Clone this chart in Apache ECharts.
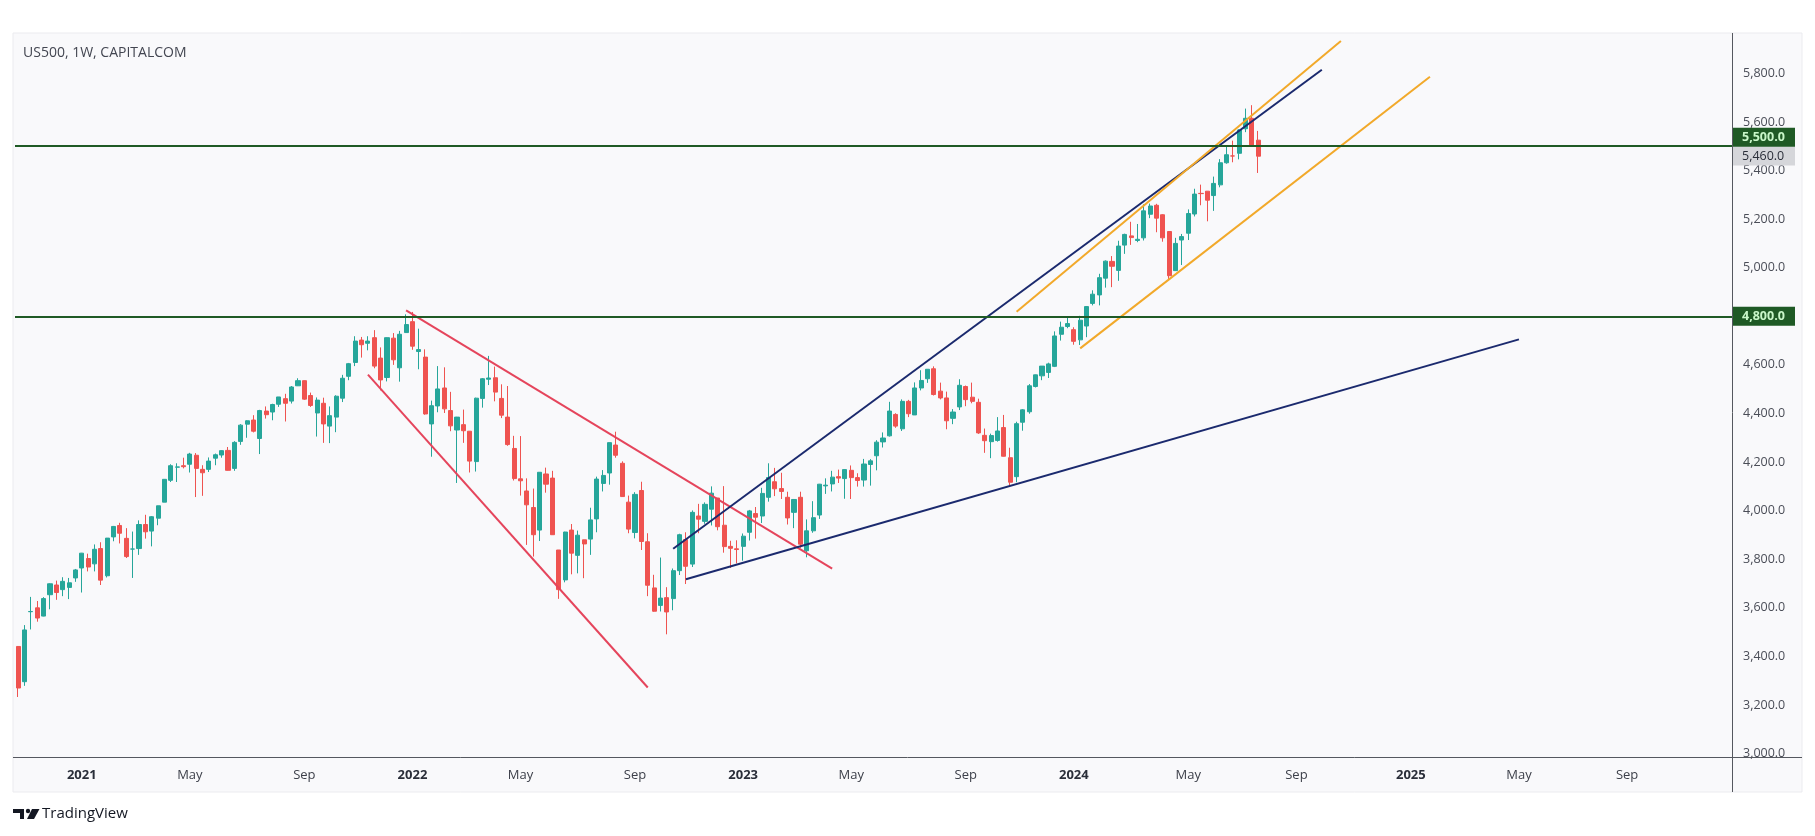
<!DOCTYPE html>
<html><head><meta charset="utf-8">
<script src="https://cdn.jsdelivr.net/npm/echarts@6/dist/echarts.min.js"></script>
<style>html,body{margin:0;padding:0;background:#fff;}#c{width:1815px;height:836px;}</style>
</head><body><div id="c"></div>
<script>
// ---------- DATA ----------
const firstWeek = '2020-10-26';   // Monday of first weekly bar
const weekSlots = 270;            // weekly slots shown on the time axis (incl. empty future)

const opens = [3441,3296,3584,3600,3566,3654,3694,3675,3684,3723,
3764,3803,3781,3844,3732,3892,3939,3886,3842,3844,3943,3916,3969,4035,4125,4179,4185,4191,4228,4170,4170,4216,4229,4248,4174,4285,4356,4373,4297,4410,4406,4438,4461,4451,4514,4535,4474,4402,4442,4348,4385,4463,4553,4610,4702,4689,4712,4628,4548,4710,4588,4733,
4778,4655,4632,4357,4431,4505,4412,4332,4354,4327,4202,4462,4541,4547,4462,4385,4256,4131,4081,4013,3920,4151,4134,3838,3715,3920,3816,3880,3883,3966,4112,4155,4270,4195,4035,3910,4083,3872,3682,3610,3642,3638,3753,3881,3780,3978,3956,4006,4052,3940,3853,3843,
3853,3911,3988,3978,4055,4119,4091,4055,3993,4055,3835,3917,3982,4102,4110,4140,4132,4166,4136,4126,4190,4226,4283,4308,4396,4337,4450,4394,4505,4543,4584,4492,4464,4380,4427,4511,4467,4446,4310,4284,4289,4342,4218,4140,4364,4407,4511,4555,4569,4594,4726,4758,
4745,4703,4760,4853,4888,4957,5026,4989,5093,5131,5112,5123,5220,5257,5218,5149,4988,5114,5142,5221,5306,5315,5297,5341,5432,5460,5471,5572,5615,5525];

const highs = [3441,3529,3645,3628,3644,3701,3712,3726,3723,3760,
3826,3823,3861,3870,3887,3937,3950,3928,3914,3960,3983,3978,4020,4130,4191,4195,4218,4238,4237,4187,4219,4235,4249,4262,4286,4356,4372,4393,4415,4429,4440,4468,4481,4513,4545,4536,4486,4466,4465,4429,4475,4559,4608,4718,4715,4718,4743,4672,4713,4731,4740,4808,
4818,4749,4664,4453,4595,4590,4489,4386,4416,4327,4465,4546,4637,4593,4520,4513,4308,4307,4133,4091,4158,4177,4164,3838,3913,3945,3918,3880,4012,4140,4167,4280,4325,4203,4062,4076,4119,3907,3736,3807,3685,3762,3905,3911,4001,4028,4034,4100,4052,4101,3876,3878,
3906,4003,4015,4094,4195,4176,4156,4078,4048,4078,3964,4039,4110,4133,4164,4169,4170,4186,4154,4213,4212,4290,4322,4448,4401,4458,4456,4528,4578,4582,4594,4527,4490,4418,4541,4515,4527,4461,4338,4317,4385,4394,4259,4366,4418,4521,4560,4595,4609,4738,4778,4793,
4755,4802,4842,4907,4975,5030,5048,5111,5140,5189,5180,5261,5264,5263,5220,5150,5123,5139,5240,5325,5342,5315,5375,5447,5505,5523,5570,5655,5669,5563];

const lows = [3233,3279,3511,3543,3565,3594,3633,3648,3636,3707,
3663,3750,3750,3694,3725,3874,3865,3805,3723,3818,3885,3853,3940,4035,4118,4118,4174,4157,4056,4061,4159,4187,4218,4165,4164,4271,4300,4322,4233,4379,4372,4427,4367,4441,4513,4456,4427,4305,4279,4278,4323,4447,4537,4595,4630,4660,4586,4495,4532,4600,4531,4733,
4662,4582,4395,4222,4405,4402,4327,4114,4279,4157,4161,4424,4517,4450,4381,4267,4124,4062,3859,3811,3875,4074,3900,3637,3705,3738,3742,3722,3818,3911,4079,4107,4218,4057,3907,3886,3838,3648,3584,3585,3491,3590,3735,3698,3768,3907,3946,3939,3919,3827,3764,3783,
3794,3877,3885,3949,4037,4060,4048,3943,3928,3847,3808,3909,3966,4069,4079,4114,4049,4048,4099,4099,4103,4166,4260,4305,4341,4328,4385,4394,4495,4526,4474,4458,4335,4356,4414,4430,4442,4316,4238,4216,4284,4223,4103,4117,4329,4399,4507,4537,4546,4591,4700,4751,
4683,4682,4714,4845,4845,4918,4920,4946,5057,5094,5105,5112,5204,5146,5107,4953,4987,5011,5114,5211,5257,5191,5234,5331,5428,5434,5446,5558,5497,5390];

const closes = [3270,3509,3585,3558,3638,3699,3663,3709,3703,3756,
3825,3768,3841,3714,3887,3935,3907,3811,3842,3943,3913,3975,4020,4129,4185,4180,4181,4233,4174,4156,4204,4230,4247,4166,4281,4352,4370,4327,4412,4395,4437,4468,4442,4509,4535,4459,4433,4455,4357,4391,4471,4545,4605,4698,4683,4698,4595,4538,4712,4621,4726,4766,
4677,4663,4398,4432,4501,4419,4349,4385,4329,4204,4463,4543,4546,4488,4393,4272,4132,4123,4024,3901,4158,4109,3901,3675,3912,3825,3899,3863,3962,4130,4145,4280,4228,4058,3924,4067,3873,3693,3586,3640,3583,3753,3901,3771,3993,3965,4026,4072,3934,3852,3845,3840,
3895,3999,3973,4071,4136,4090,4079,3970,4046,3862,3917,3971,4109,4105,4138,4134,4169,4136,4124,4192,4205,4282,4299,4410,4348,4450,4399,4505,4536,4582,4478,4464,4370,4406,4516,4457,4450,4320,4288,4309,4328,4224,4117,4358,4415,4514,4559,4595,4604,4719,4755,4770,
4697,4784,4840,4891,4959,5027,5006,5089,5137,5124,5117,5234,5254,5204,5123,4967,5100,5128,5223,5303,5305,5278,5347,5432,5465,5460,5567,5615,5505,5459];

// price axis tick labels
const priceTicks = [3000,3200,3400,3600,3800,4000,4200,4400,4600,4800,5000,5200,5400,5600,5800];
// time axis tick labels (bar date -> text)
const timeTicks = [
 ['2021-01-04','2021'],['2021-05-03','May'],['2021-09-06','Sep'],
 ['2022-01-03','2022'],['2022-05-02','May'],['2022-09-05','Sep'],
 ['2023-01-02','2023'],['2023-05-01','May'],['2023-09-04','Sep'],
 ['2024-01-01','2024'],['2024-05-06','May'],['2024-09-02','Sep'],
 ['2025-01-06','2025'],['2025-05-05','May'],['2025-09-01','Sep']];

// horizontal levels
const levels = [5500, 4800];
const lastPrice = 5460;

// trend lines [date, price]
const redUpper   = [['2021-12-27',4824],['2023-04-10',3761]];
const redLower   = [['2021-11-15',4560],['2022-09-19',3272]];
const blueUpper  = [['2022-10-17',3843],['2024-09-30',5815]];
const blueLower  = [['2022-10-31',3718],['2025-05-05',4705]];
const orangeUpper= [['2023-10-30',4819],['2024-10-21',5933]];
const orangeLower= [['2024-01-08',4668],['2025-01-27',5786]];

// ---------- BUILD ----------
function fmtDate(d){return d.toISOString().slice(0,10);}
const weeks = [];
{ const d0 = new Date(firstWeek+'T00:00:00Z');
  for(let i=0;i<weekSlots;i++){ weeks.push(fmtDate(new Date(d0.getTime()+i*7*86400000))); } }
const candles = opens.map((o,i)=>[o, closes[i], lows[i], highs[i]]);
const tickMap = {}; timeTicks.forEach(t=>tickMap[t[0]]=t[1]);
function fmtPrice(v){ const s=Math.round(v).toString(); return s.replace(/\B(?=(\d{3})+(?!\d))/g, ',')+'.0'; }

const chart = echarts.init(document.getElementById('c'), null, {renderer:'canvas'});
const lineSeries = (data,color)=>({type:'line',data:data,symbol:'none',silent:true,z:4,
  lineStyle:{color:color,width:2},animation:false});
const tagLabel = (bg,fg,bold,offY)=>({show:true,position:'end',distance:0,formatter:p=>fmtPrice(p.value),
  backgroundColor:bg,color:fg,fontSize:12.5,fontWeight:bold?'bold':'normal',fontFamily:'Open Sans',
  padding:[3,3,3,10],width:50,height:13,lineHeight:13,offset:[0,offY]});

chart.setOption({
  animation:false,
  backgroundColor:'#ffffff',
  graphic:[
    {type:'rect',z:-100,shape:{x:13,y:33,width:1789,height:759},style:{fill:'#f9f9fb',stroke:'#ebebef',lineWidth:1}},
    {type:'line',z:50,shape:{x1:1732.5,y1:33,x2:1732.5,y2:792},style:{stroke:'#55585f',lineWidth:1}},
    {type:'line',z:50,shape:{x1:13,y1:757.5,x2:1802,y2:757.5},style:{stroke:'#55585f',lineWidth:1}},
    {type:'text',left:23,top:46,style:{text:'US500, 1W, CAPITALCOM',fill:'#434651',font:'14px "Open Sans"'}},
    {type:'polygon',shape:{points:[[13,809],[24,809],[24,819],[20,819],[20,813],[13,813]]},style:{fill:'#131722'}},
    {type:'circle',shape:{cx:28,cy:811,r:2.2},style:{fill:'#131722'}},
    {type:'polygon',shape:{points:[[32,809],[39.5,809],[34,819],[27,819]]},style:{fill:'#131722'}},
    {type:'text',left:42,top:806,style:{text:'TradingView',fill:'#131722',font:'15px "Open Sans"'}}
  ],
  grid:{left:15,right:83,top:34,bottom:79,containLabel:false},
  xAxis:{type:'category',data:weeks,boundaryGap:true,
    axisLine:{show:false},axisTick:{show:false},splitLine:{show:false},
    axisLabel:{interval:(i,v)=>tickMap[v]!==undefined,margin:12,hideOverlap:false,
      formatter:v=>{const t=tickMap[v]; if(!t) return ''; return /^\d{4}$/.test(t)?'{y|'+t+'}':'{m|'+t+'}';},
      rich:{y:{fontFamily:'Open Sans',fontSize:13,fontWeight:'bold',color:'#2a2e39'},
            m:{fontFamily:'Open Sans',fontSize:13,color:'#3d404a'}}}},
  yAxis:{type:'value',position:'right',min:2986,max:5962,scale:true,
    axisLine:{show:false},axisTick:{show:false},splitLine:{show:false},
    axisLabel:{customValues:priceTicks,margin:11,formatter:v=>fmtPrice(v),
      fontFamily:'Open Sans',fontSize:12.5,color:'#4a4d57'}},
  series:[
    {type:'candlestick',data:candles,barWidth:'72%',z:3,
     itemStyle:{color:'#26a69a',color0:'#ef5350',borderColor:'#26a69a',borderColor0:'#ef5350',borderWidth:1},
     markLine:{silent:true,symbol:['none','none'],animation:false,precision:1,
       data:[
         {yAxis:lastPrice,lineStyle:{color:'rgba(0,0,0,0)',width:0},label:tagLabel('#d5d6da','#2a2e39',false,0)},
         {yAxis:levels[0],lineStyle:{color:'#1f5a25',width:2,type:'solid'},label:tagLabel('#1f5a25','#c9f7c9',true,-9)},
         {yAxis:levels[1],lineStyle:{color:'#1f5a25',width:2,type:'solid'},label:tagLabel('#1f5a25','#c9f7c9',true,0)}
       ]}},
    lineSeries(redUpper,'#e5455c'),
    lineSeries(redLower,'#e5455c'),
    lineSeries(blueUpper,'#1b2a6e'),
    lineSeries(blueLower,'#1b2a6e'),
    lineSeries(orangeUpper,'#f2a92a'),
    lineSeries(orangeLower,'#f2a92a')
  ]
});
</script></body></html>
